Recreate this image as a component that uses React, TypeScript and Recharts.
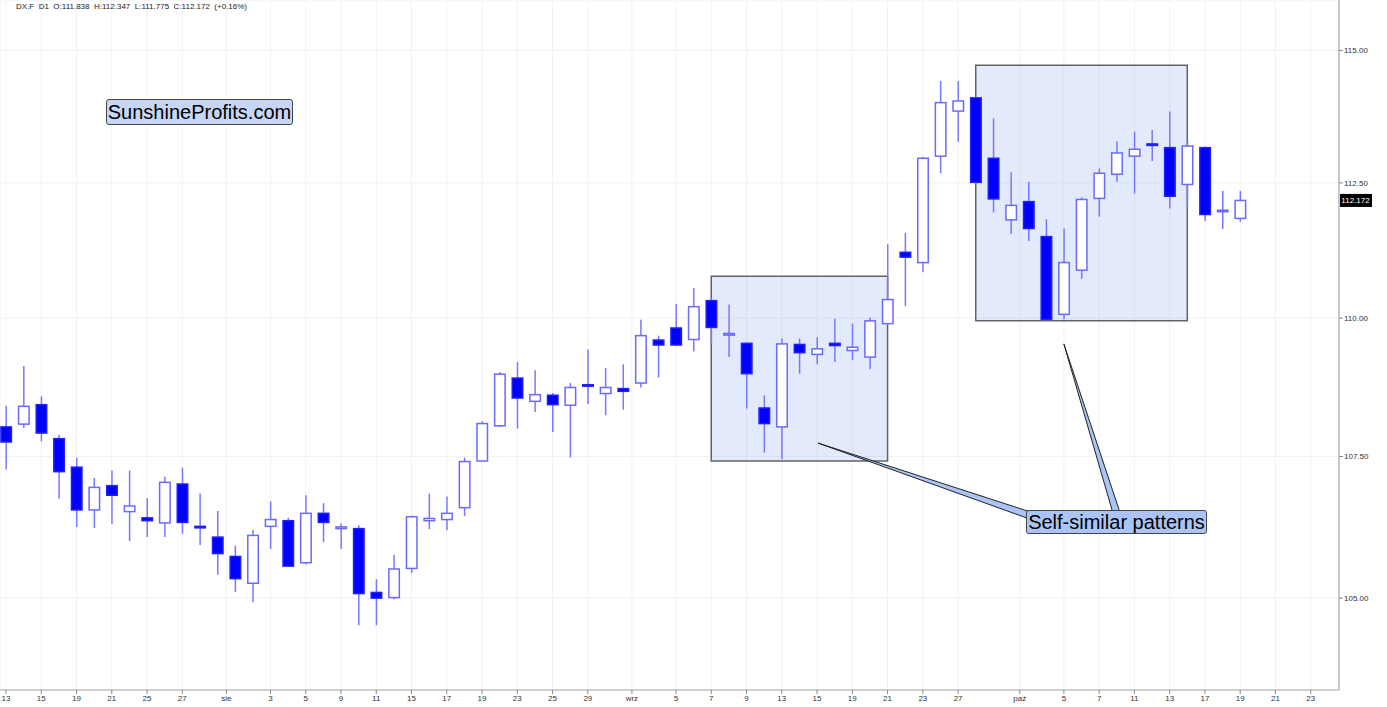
import React from "react";
import {
  ComposedChart,
  Bar,
  XAxis,
  YAxis,
  CartesianGrid,
  ReferenceArea,
  ReferenceLine,
} from "recharts";

// DX.F daily, 13 Jul 2022 .. 19 Oct 2022 (index = trading day)
const opens = [
  108.03, 108.08, 108.43, 107.82, 107.31, 106.55, 106.98, 106.52, 106.41, 106.32,
  107.01, 106.26, 106.07, 105.73, 105.26, 106.26, 106.36, 105.62, 106.49, 106.22,
  106.22, 105.1, 105.01, 105.52, 106.36, 106.38, 106.59, 107.42, 108.05, 108.91,
  108.49, 108.6, 108.42, 108.79, 108.63, 108.72, 108.82, 109.6, 109.82, 109.61,
  110.32, 109.69, 109.54, 108.37, 108.03, 109.52, 109.34, 109.54, 109.41, 109.29,
  109.9, 111.21, 111.02, 113.0, 113.85, 114.1, 112.96, 111.81, 112.15, 111.5,
  110.07, 110.88, 112.21, 112.66, 113.0, 113.23, 113.16, 112.47, 113.16, 111.97,
  111.838,
];
const highs = [
  108.41, 109.13, 108.58, 107.89, 107.48, 107.12, 107.25, 107.25, 106.76, 107.14,
  107.3, 106.84, 106.53, 105.92, 106.2, 106.7, 106.41, 106.81, 106.67, 106.31,
  106.28, 105.33, 105.76, 106.45, 106.84, 106.79, 107.48, 108.13, 109.02, 109.2,
  109.05, 108.64, 108.82, 109.43, 109.09, 109.16, 109.97, 109.68, 110.26, 110.55,
  110.36, 110.25, 109.56, 108.6, 109.63, 109.63, 109.65, 109.99, 109.9, 110.01,
  111.36, 111.57, 112.99, 114.42, 114.42, 114.12, 113.71, 112.7, 112.52, 111.82,
  111.65, 112.23, 112.77, 113.28, 113.46, 113.49, 113.84, 113.27, 113.18, 112.35,
  112.347,
];
const lows = [
  107.27, 108.01, 107.77, 106.75, 106.25, 106.23, 106.3, 106.0, 106.07, 106.07,
  106.13, 105.93, 105.41, 105.11, 104.93, 105.86, 105.55, 105.59, 105.98, 105.86,
  104.53, 104.53, 104.98, 105.44, 106.21, 106.19, 106.44, 107.41, 108.03, 108.0,
  108.3, 107.94, 107.48, 108.44, 108.24, 108.34, 108.74, 108.92, 109.5, 109.39,
  109.54, 109.29, 108.36, 107.57, 107.45, 108.99, 109.16, 109.2, 109.24, 109.07,
  109.88, 110.22, 110.84, 112.68, 113.27, 112.49, 111.95, 111.55, 111.42, 109.97,
  109.98, 110.72, 111.87, 112.52, 112.3, 112.91, 112.02, 112.05, 111.79, 111.64,
  111.775,
];
const closes = [
  107.76, 108.4, 107.92, 107.23, 106.55, 106.95, 106.81, 106.62, 106.36, 107.04,
  106.33, 106.24, 105.78, 105.34, 106.1, 106.38, 105.56, 106.49, 106.33, 106.25,
  105.08, 105.0, 105.51, 106.43, 106.4, 106.49, 107.41, 108.09, 108.98, 108.55,
  108.61, 108.43, 108.74, 108.77, 108.74, 108.67, 109.68, 109.51, 109.51, 110.21,
  109.83, 109.72, 108.99, 108.09, 109.53, 109.37, 109.44, 109.5, 109.47, 109.95,
  110.34, 111.12, 112.96, 114.01, 114.04, 112.51, 112.2, 112.08, 111.65, 109.98,
  111.02, 112.19, 112.68, 113.06, 113.13, 113.21, 112.25, 113.19, 111.91, 111.99,
  112.172,
];

const tickIdx = [
  0, 2, 4, 6, 8, 10, 12.5, 15, 17, 19, 21, 23, 25, 27, 29, 31, 33, 35.5, 38, 40,
  42, 44, 46, 48, 50, 52, 54, 57.5, 60, 62, 64, 66, 68, 70, 72, 74,
];
const tickLabels = [
  "13", "15", "19", "21", "25", "27", "sie", "3", "5", "9", "11", "15", "17", "19",
  "23", "25", "29", "wrz", "5", "7", "9", "13", "15", "19", "21", "23", "27", "paź",
  "5", "7", "11", "13", "17", "19", "21", "23",
];
const yTicks = [105, 107.5, 110, 112.5, 115];

const data = opens.map((o, i) => ({
  idx: i,
  range: [lows[i], highs[i]],
  open: o,
  high: highs[i],
  low: lows[i],
  close: closes[i],
}));

const last = data[data.length - 1];
const prevClose = 111.993;
const changePct = ((last.close - prevClose) / prevClose) * 100;

const FONT = "'Liberation Sans', Arial, sans-serif";

function Candle(props: any) {
  const { x, y, width, height, payload } = props;
  if (x == null || y == null) return null;
  const { open, close, high, low } = payload;
  const lh = Math.log(high);
  const ll = Math.log(low);
  // log scale, so interpolate open/close in log space between high and low
  const toY = (v: number) => y + (height * (lh - Math.log(v))) / (lh - ll || 1);
  const cx = x + width / 2;
  const up = close >= open;
  const top = toY(Math.max(open, close));
  const bot = toY(Math.min(open, close));
  const bh = Math.max(bot - top, 1.5);
  return (
    <g>
      <line x1={cx} x2={cx} y1={y} y2={y + height} stroke="#7878ff" strokeWidth={1.5} />
      <rect
        x={x + 0.75}
        y={top}
        width={width - 1.5}
        height={bh}
        fill={up ? "#ffffff" : "#0000ff"}
        stroke={up ? "#6a6aff" : "#1f1fff"}
        strokeWidth={1.5}
      />
    </g>
  );
}

function Pointer(props: any) {
  const { x1, y1, x2, y2 } = props;
  const dx = x2 - x1;
  const dy = y2 - y1;
  const len = Math.sqrt(dx * dx + dy * dy) || 1;
  const nx = (-dy / len) * 3.5;
  const ny = (dx / len) * 3.5;
  const pts = `${x1},${y1} ${x2 + nx},${y2 + ny} ${x2 - nx},${y2 - ny}`;
  return <polygon points={pts} fill="#aac4f6" stroke="#222" strokeWidth={1} strokeLinejoin="round" />;
}

function PriceTag(props: any) {
  const vb = props.viewBox || {};
  const x = (vb.x || 0) + (vb.width || 0);
  const y = vb.y || 0;
  return (
    <g>
      <rect x={x} y={y - 6.5} width={33} height={13} fill="#000" />
      <text
        x={x + 16.5}
        y={y + 3}
        textAnchor="middle"
        fill="#fff"
        fontSize={8}
        fontFamily={FONT}
      >
        {last.close.toFixed(3)}
      </text>
    </g>
  );
}

export default function App() {
  return (
    <div
      style={{
        position: "absolute",
        left: 0,
        top: 0,
        width: 1387,
        height: 707,
        background: "#fff",
        fontFamily: FONT,
      }}
    >
      <ComposedChart
        width={1387}
        height={707}
        data={data}
        margin={{ top: 0, right: 0, bottom: 0, left: 0 }}
      >
        <CartesianGrid stroke="#f2f2f2" />
        <XAxis
          dataKey="idx"
          type="number"
          domain={[-0.3403, 75.604]}
          allowDataOverflow
          ticks={tickIdx}
          interval={0}
          tickFormatter={(v: number) => tickLabels[tickIdx.indexOf(v)] ?? ""}
          height={17}
          tickSize={4}
          tickMargin={1}
          tick={{ fontSize: 8, fill: "#333", fontFamily: FONT }}
          axisLine={{ stroke: "#a8a8a8" }}
          tickLine={{ stroke: "#888" }}
        />
        <YAxis
          orientation="right"
          scale="log"
          domain={[103.41, 115.97]}
          allowDataOverflow
          ticks={yTicks}
          interval={0}
          tickFormatter={(v: number) => v.toFixed(2)}
          width={48}
          tickSize={4}
          tickMargin={1}
          tick={{ fontSize: 8, fill: "#333", fontFamily: FONT }}
          axisLine={{ stroke: "#c8c8c8", strokeWidth: 2 }}
          tickLine={{ stroke: "#888" }}
        />
        <Bar
          dataKey="range"
          barSize={12}
          shape={<Candle />}
          isAnimationActive={false}
        />
        <ReferenceArea
          x1={40}
          x2={50}
          y1={107.42}
          y2={110.77}
          fill="#7b9cec"
          fillOpacity={0.21}
          stroke="#4a4a4a"
          strokeWidth={1.5}
          strokeOpacity={0.85}
          ifOverflow="visible"
        />
        <ReferenceArea
          x1={55}
          x2={67}
          y1={109.95}
          y2={114.72}
          fill="#7b9cec"
          fillOpacity={0.21}
          stroke="#4a4a4a"
          strokeWidth={1.5}
          strokeOpacity={0.85}
          ifOverflow="visible"
        />
        <ReferenceLine
          segment={[
            { x: 46.06, y: 107.74 },
            { x: 58.2, y: 106.44 },
          ]}
          shape={Pointer}
          ifOverflow="visible"
        />
        <ReferenceLine
          segment={[
            { x: 60.0, y: 109.53 },
            { x: 63.02, y: 106.46 },
          ]}
          shape={Pointer}
          ifOverflow="visible"
        />
        <ReferenceLine
          y={last.close}
          stroke="none"
          ifOverflow="visible"
          label={<PriceTag />}
        />
      </ComposedChart>

      <div
        style={{
          position: "absolute",
          left: 16,
          top: 2,
          fontSize: 8,
          color: "#222",
          whiteSpace: "pre",
        }}
      >
        {`DX.F  D1  O:${last.open.toFixed(3)}  H:${last.high.toFixed(3)}  L:${last.low.toFixed(
          3
        )}  C:${last.close.toFixed(3)}  (+${changePct.toFixed(2)}%)`}
      </div>

      <div
        style={{
          position: "absolute",
          left: 106,
          top: 99,
          width: 185,
          height: 24,
          lineHeight: "24px",
          textAlign: "center",
          fontSize: 20,
          color: "#000",
          background: "#c6d6f6",
          border: "1px solid #444",
          borderRadius: 3,
        }}
      >
        SunshineProfits.com
      </div>

      <div
        style={{
          position: "absolute",
          left: 1026,
          top: 510,
          width: 179,
          height: 22,
          lineHeight: "22px",
          textAlign: "center",
          fontSize: 20,
          color: "#000",
          background: "#aac4f6",
          border: "1px solid #444",
          borderRadius: 3,
        }}
      >
        Self-similar patterns
      </div>
    </div>
  );
}
